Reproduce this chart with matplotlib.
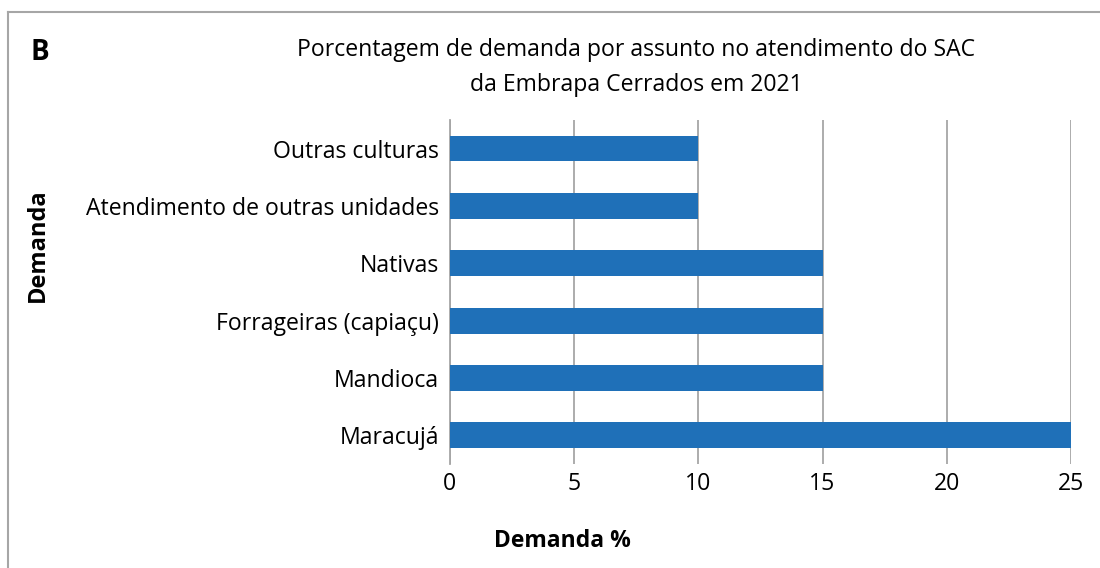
import matplotlib
matplotlib.use("Agg")
import matplotlib.pyplot as plt
from matplotlib.lines import Line2D

categories = ["Maracujá", "Mandioca", "Forrageiras (capiaçu)", "Nativas",
              "Atendimento de outras unidades", "Outras culturas"]
values = [25, 15, 15, 15, 10, 10]
xticks = [0, 5, 10, 15, 20, 25]

plt.rcParams['font.family'] = ['Open Sans', 'DejaVu Sans']

fig = plt.figure(figsize=(11, 5.68), dpi=100)
ax = fig.add_axes([0.409, 0.183, 0.5646, 0.606])

ax.barh(range(len(categories)), values, height=0.45, color="#1F70B8", zorder=3)
ax.set_yticks(range(len(categories)))
ax.set_yticklabels(categories, fontsize=16.6)
ax.set_ylim(-0.5, len(categories) - 0.5)
ax.set_xlim(0, 25)
ax.set_xticks(xticks)
ax.set_xticklabels([str(t) for t in xticks], fontsize=16.6)
ax.tick_params(axis='y', length=0, pad=8)
ax.tick_params(axis='x', length=0, pad=6)
ax.grid(axis='x', color="#A6A6A6", linewidth=1.3, zorder=0)
for s in ['top', 'right', 'bottom']:
    ax.spines[s].set_visible(False)
ax.spines['left'].set_color("#A6A6A6")
ax.spines['left'].set_linewidth(1.3)

fig.text(0.5786, 0.912, "Porcentagem de demanda por assunto no atendimento do SAC",
         ha='center', va='center', fontsize=16.6)
fig.text(0.5786, 0.851, "da Embrapa Cerrados em 2021",
         ha='center', va='center', fontsize=16.6)
fig.text(0.036, 0.908, "B", ha='center', va='center', fontsize=20, fontweight='bold')
fig.text(0.034, 0.569, "Demanda", ha='center', va='center', rotation=90, fontsize=17, fontweight='bold')
fig.text(0.511, 0.0475, "Demanda %", ha='center', va='center', fontsize=16.5, fontweight='bold')

# outer border (left and top edges visible)
fig.add_artist(Line2D([8/1100, 8/1100], [0, 1 - 12/568], transform=fig.transFigure, color="#A6A6A6", linewidth=1.5))
fig.add_artist(Line2D([8/1100, 1], [1 - 12/568, 1 - 12/568], transform=fig.transFigure, color="#A6A6A6", linewidth=1.5))

fig.savefig("out.png", dpi=100)
